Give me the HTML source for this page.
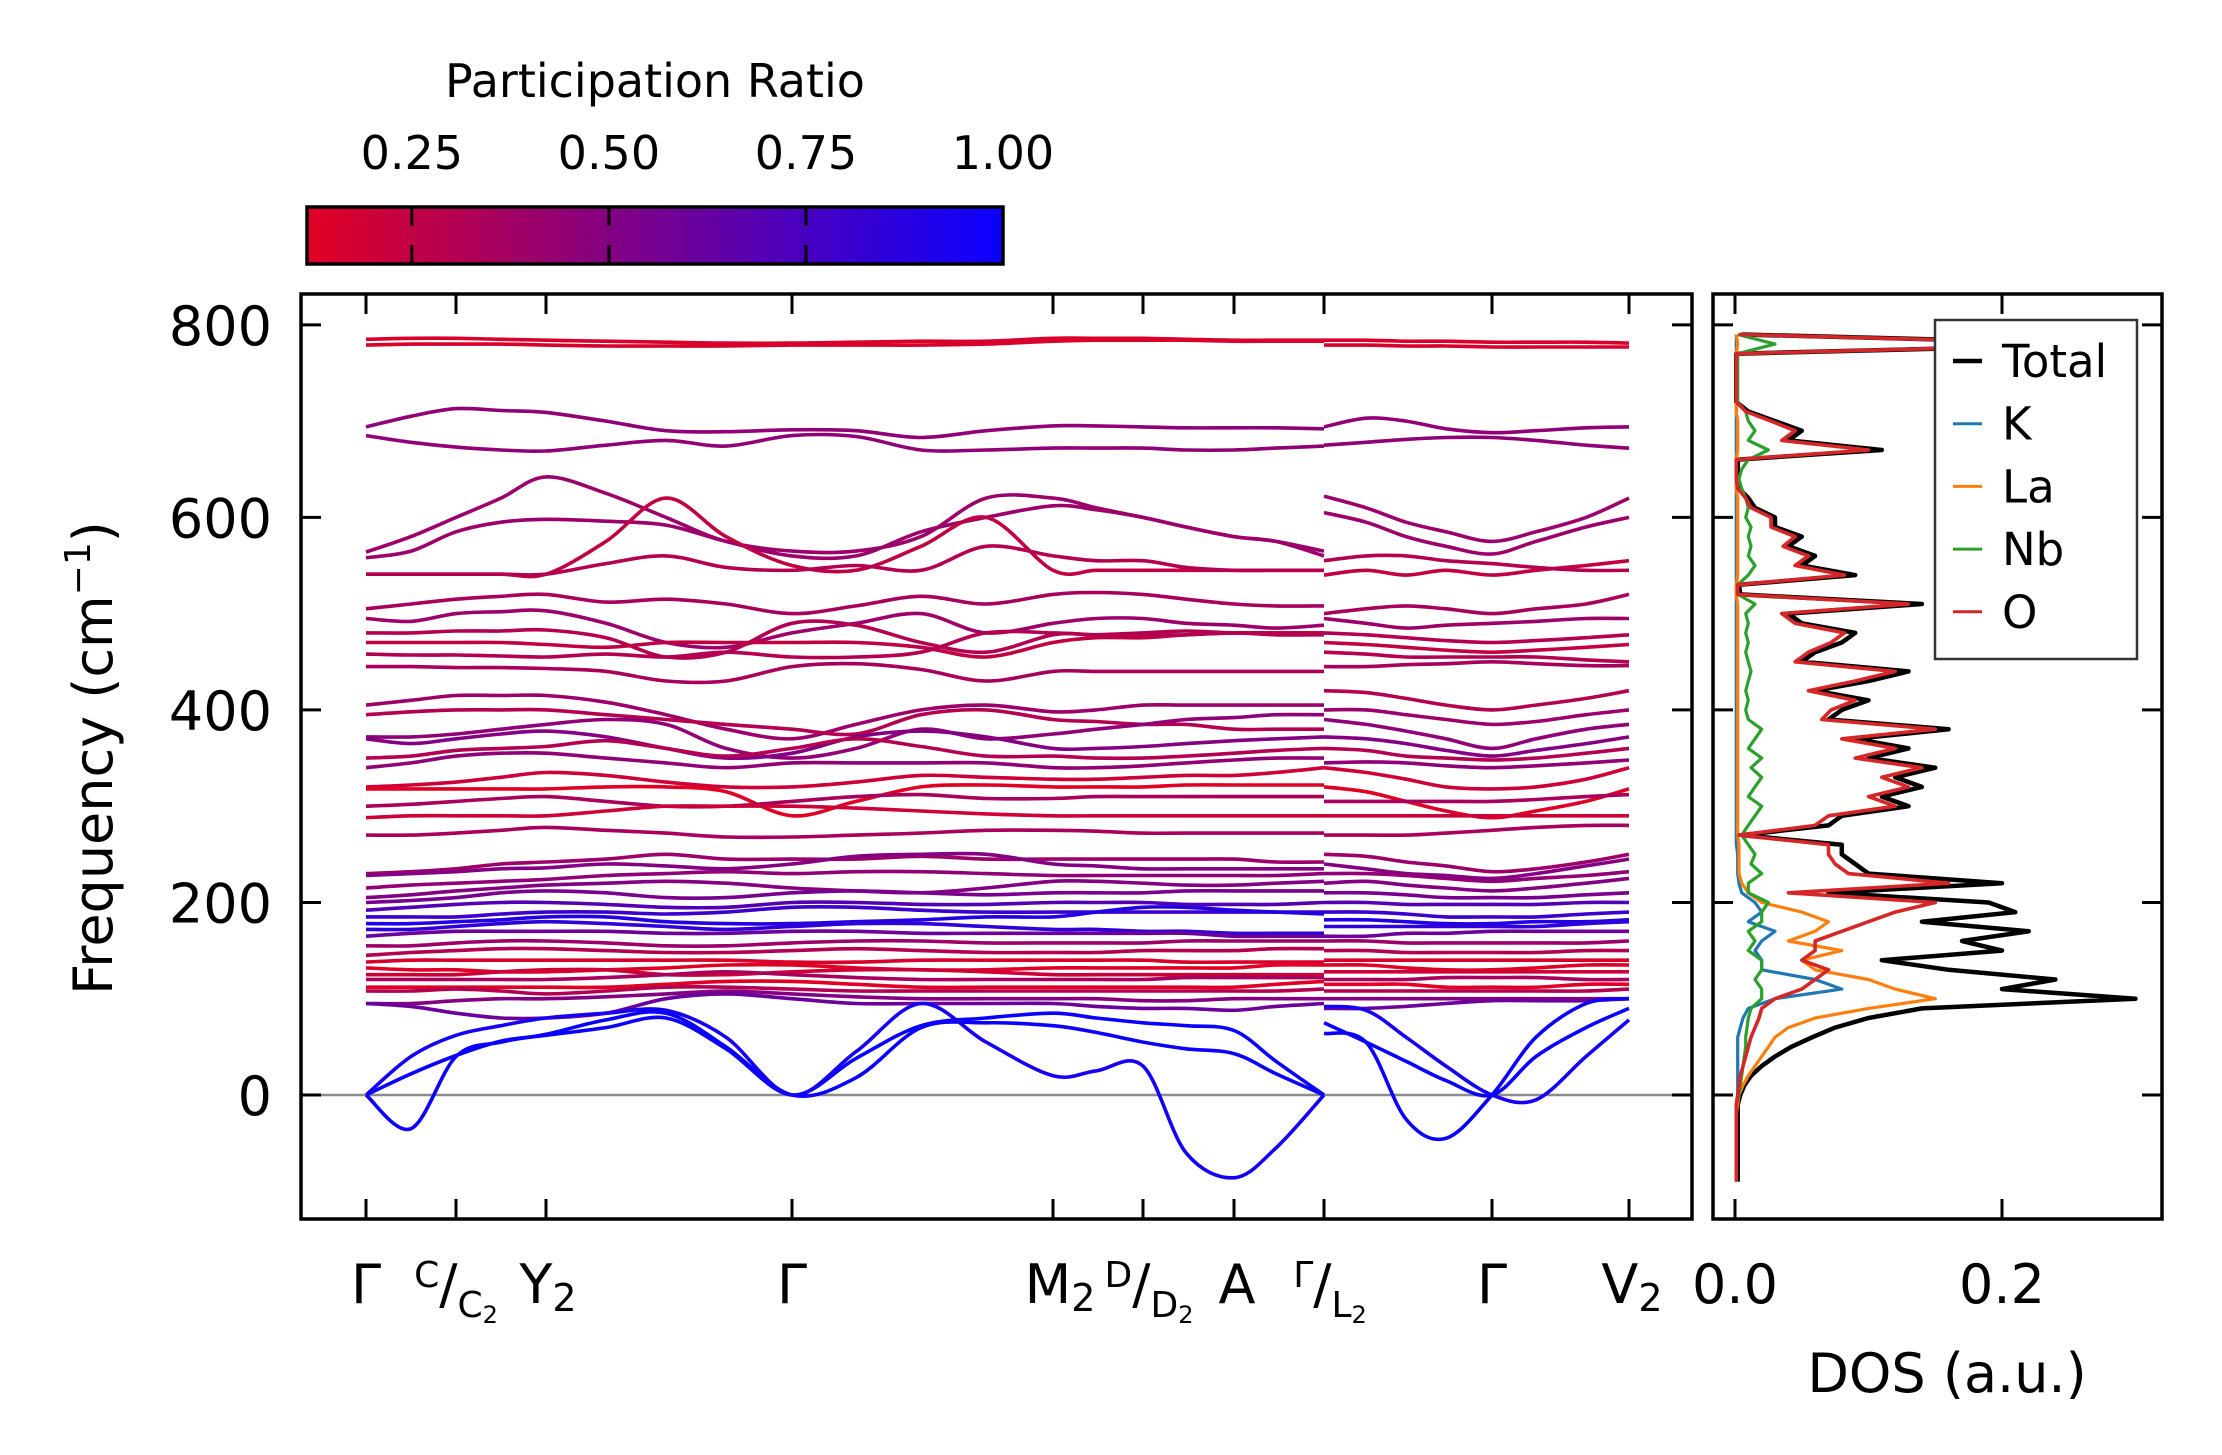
<!DOCTYPE html>
<html><head><meta charset="utf-8"><title>Phonon bands and DOS</title>
<style>
html,body{margin:0;padding:0;background:#fff;}
svg{display:block;font-family:"DejaVu Sans","Liberation Sans",sans-serif;}
</style></head>
<body>
<svg id="fig" width="2222" height="1455" viewBox="0 0 2222 1455" xmlns="http://www.w3.org/2000/svg">
<defs>
<linearGradient id="cmapGrad" x1="0" x2="1" y1="0" y2="0">
<stop offset="0" stop-color="rgb(225,0,35)"/>
<stop offset="1" stop-color="rgb(10,0,255)"/>
</linearGradient>
<clipPath id="mainClip"><rect x="301" y="294" width="1391" height="925"/></clipPath>
<clipPath id="dosClip"><rect x="1713" y="294" width="449" height="925"/></clipPath>
</defs>
<g id="colorbar">
<text x="655" y="97" font-size="46" text-anchor="middle">Participation Ratio</text>
<rect x="307" y="207" width="696" height="57" fill="url(#cmapGrad)" stroke="#000" stroke-width="3.5"/>
</g>
<g id="main"></g>
<g id="dos"></g>
<text transform="translate(112,758) rotate(-90)" font-size="54" text-anchor="middle">Frequency (cm<tspan font-size="36" dy="-22">−1</tspan><tspan dy="22">)</tspan></text>
<text x="1947" y="1392" font-size="54" text-anchor="middle">DOS (a.u.)</text>
</svg>
<script>
const kTicks = [0, 0.9, 1.8, 4.26, 6.87, 7.77, 8.68, 9.58, 11.26, 12.63];
const kSeg1 = [0,0.45,0.9,1.35,1.8,2.4,3.0,3.6,4.26,4.9,5.55,6.2,6.87,7.3,7.77,8.2,8.68,9.1,9.58];
const kSeg2 = [9.58,10.0,10.4,10.8,11.26,11.7,12.2,12.63];
const freqTicks = [0, 200, 400, 600, 800];
const bandFreqSeg1 = [
[785,786,786,785,784,783,782,781,781,782,783,783,786,786,786,785,784,784,784],
[779,780,780,780,779,778,778,778,779,779,779,780,783,784,784,784,783,783,783],
[694,705,713,711,709,700,690,689,691,690,683,690,695,695,694,693,693,693,692],
[685,678,673,670,669,675,680,674,685,684,670,670,672,672,672,670,670,672,674],
[564,580,600,620,642,625,600,575,565,565,580,620,620,610,600,590,580,575,565],
[558,565,585,595,598,596,592,575,560,560,585,600,612,608,600,590,580,575,560],
[541,541,541,541,541,575,620,580,550,545,570,600,545,545,545,545,545,545,545],
[541,541,541,541,541,552,560,548,545,550,545,570,560,555,555,548,545,545,545],
[505,510,515,518,520,512,515,510,500,508,518,510,520,522,520,515,510,508,508],
[495,492,500,502,503,490,470,465,480,490,500,480,490,495,495,490,488,485,488],
[480,480,482,482,483,475,455,460,490,488,470,460,478,478,480,482,480,480,480],
[470,470,470,470,468,465,470,470,470,470,465,455,470,475,475,478,480,480,480],
[458,457,457,456,455,458,455,460,455,455,460,480,480,478,478,478,480,478,478],
[445,445,444,444,443,440,430,430,445,448,442,430,440,440,440,440,440,440,440],
[405,410,415,415,415,408,395,380,370,385,400,405,398,400,405,405,405,405,405],
[395,398,400,400,400,395,390,385,380,375,395,400,390,388,385,385,380,380,380],
[372,372,375,380,385,390,385,360,350,360,380,370,375,380,385,390,392,395,395],
[370,365,370,375,378,372,360,350,355,372,378,372,360,360,362,365,368,370,372],
[350,352,358,360,362,368,360,352,360,370,362,352,352,350,350,352,355,358,360],
[340,345,352,355,355,350,345,340,345,345,345,345,340,340,342,345,348,350,350],
[320,322,325,330,335,332,325,320,320,325,332,330,328,328,330,332,332,335,340],
[318,318,318,318,318,320,320,315,290,305,320,322,320,320,320,322,322,322,322],
[300,302,305,308,310,305,300,300,305,310,312,308,308,310,310,310,310,310,310],
[288,290,290,290,290,295,300,300,300,298,295,292,290,290,290,290,290,290,290],
[270,270,272,275,278,275,272,268,268,270,272,275,275,274,272,272,272,272,272],
[230,232,235,240,242,245,250,245,245,245,248,245,245,245,245,245,245,242,242],
[228,230,232,235,236,240,238,235,240,248,250,250,240,238,235,235,235,235,235],
[215,218,220,222,224,228,230,232,230,232,232,230,228,228,228,228,228,228,230],
[205,208,212,215,218,220,222,220,215,212,210,215,222,222,220,218,218,220,222],
[200,202,205,210,212,210,205,205,210,212,210,208,210,210,210,212,212,212,212],
[192,195,198,200,200,198,195,195,200,200,198,198,200,200,200,198,198,198,200],
[185,185,185,188,190,190,188,190,195,195,192,190,190,190,190,190,190,190,190],
[178,178,180,182,185,185,180,178,178,180,182,185,185,190,195,195,192,190,188],
[172,172,175,178,180,178,175,172,175,178,178,175,172,172,170,170,168,168,168],
[165,168,170,170,170,170,168,168,170,170,168,168,168,168,168,168,165,165,165],
[155,155,158,160,160,158,155,155,158,160,160,158,158,158,158,160,160,160,160],
[145,148,150,152,152,150,148,148,150,152,150,148,148,148,150,150,150,152,152],
[138,140,140,140,140,140,140,140,138,138,140,140,140,140,140,138,138,138,138],
[132,130,130,128,128,130,132,135,135,132,130,130,132,132,132,132,132,135,135],
[125,125,125,128,130,130,125,125,128,130,130,128,125,125,125,125,125,125,125],
[120,120,120,120,120,122,125,128,125,122,120,120,120,120,120,122,122,122,122],
[112,112,112,112,112,112,115,118,118,115,112,112,112,112,112,112,112,115,118],
[108,108,110,108,105,108,112,112,110,108,108,108,108,108,108,108,108,108,110],
[95,95,98,100,100,102,105,108,105,102,100,100,100,100,98,98,100,100,100],
[95,92,85,80,80,85,100,105,100,95,95,95,95,92,90,90,88,92,95],
[0,-35,40,55,63,78,85,50,0,18,70,75,72,65,55,48,43,22,0],
[0,22,41,56,62,70,80,48,0,38,72,80,85,80,75,72,67,35,0],
[0,40,62,72,80,85,88,60,0,45,95,55,20,25,30,-60,-86,-55,0]
];
const bandFreqSeg2 = [
[784,784,783,783,782,782,782,781],
[779,779,778,778,777,777,777,777],
[694,703,700,692,688,690,693,694],
[675,678,681,683,683,680,675,672],
[622,610,595,585,575,585,600,620],
[605,595,580,570,562,575,590,600],
[540,545,540,545,540,545,550,555],
[555,560,560,555,552,548,545,545],
[500,505,508,505,500,505,510,520],
[495,490,485,488,490,492,495,495],
[480,478,475,472,470,472,475,478],
[470,468,465,462,460,462,465,468],
[460,458,455,455,455,455,452,450],
[445,445,447,448,450,448,446,446],
[400,400,395,390,385,388,395,400],
[420,418,412,405,400,405,412,420],
[390,385,378,370,360,370,380,385],
[372,370,365,358,352,358,365,372],
[360,358,352,350,348,350,355,360],
[345,346,345,342,340,342,345,348],
[340,335,328,320,318,320,328,340],
[320,315,305,295,288,295,305,318],
[305,305,305,305,305,307,310,312],
[290,290,290,290,290,290,290,290],
[270,270,270,272,275,278,280,280],
[250,248,242,238,232,235,242,250],
[240,235,230,228,225,230,238,245],
[230,230,228,225,222,225,228,232],
[220,222,218,215,212,215,220,225],
[210,210,208,205,205,205,208,210],
[200,200,198,198,198,198,200,200],
[190,190,188,185,185,185,188,190],
[182,182,180,178,178,180,180,182],
[175,175,175,175,175,175,178,180],
[165,165,168,168,170,170,170,170],
[160,160,158,158,158,158,158,160],
[150,150,148,148,148,148,150,150],
[140,140,140,140,140,140,140,140],
[135,135,132,130,130,132,135,135],
[128,128,128,128,128,128,128,128],
[120,120,120,122,122,122,120,120],
[115,115,115,112,112,112,115,115],
[108,108,108,108,108,108,108,110],
[100,100,100,100,100,100,100,100],
[90,90,92,95,98,98,98,100],
[64,55,-25,-45,0,60,95,100],
[75,55,35,15,0,40,70,90],
[92,88,60,30,0,-5,40,78]
];
const bandPR = [0.15,0.15,0.45,0.45,0.4,0.4,0.25,0.3,0.35,0.4,0.3,0.25,0.3,0.35,
0.4,0.3,0.45,0.5,0.3,0.45,0.2,0.1,0.35,0.2,0.35,0.4,0.5,0.45,0.5,0.55,0.7,0.8,0.9,0.85,
0.6,0.4,0.3,0.15,0.12,0.2,0.35,0.1,0.3,0.5,0.6,1.0,1.0,0.95];
const cbTicks = [0.25, 0.5, 0.75, 1.0];
const cbTickLabels = ["0.25","0.50","0.75","1.00"];
const prMin = 0.117, prMax = 1.0;
const dosFreq = [-90,-80,-70,-60,-50,-40,-30,-20,-10,0,10,20,30,40,50,60,70,80,90,100,110,120,130,140,150,160,170,180,190,200,210,220,230,240,250,260,270,280,290,300,310,320,330,340,350,360,370,380,390,400,410,420,430,440,450,460,470,480,490,500,510,520,530,540,550,560,570,580,590,600,610,620,630,640,650,660,670,680,690,700,710,720,730,740,750,760,770,780,790];
const dosTotal = [0.002,0.002,0.002,0.002,0.002,0.002,0.002,0.002,0.002,0.004,0.007,0.012,0.02,0.03,0.042,0.058,0.075,0.1,0.14,0.3,0.2,0.24,0.16,0.11,0.2,0.17,0.22,0.14,0.21,0.19,0.07,0.2,0.1,0.09,0.08,0.08,0.005,0.07,0.08,0.13,0.11,0.14,0.12,0.15,0.1,0.13,0.09,0.16,0.07,0.08,0.1,0.06,0.1,0.13,0.05,0.06,0.08,0.09,0.05,0.04,0.14,0.004,0.003,0.09,0.05,0.06,0.04,0.05,0.03,0.03,0.015,0.01,0.003,0.002,0.002,0.002,0.11,0.04,0.05,0.03,0.01,0.001,0.001,0.001,0.001,0.001,0.001,0.29,0.005];
const dosO = [0.001,0.001,0.001,0.001,0.001,0.001,0.001,0.001,0.001,0.002,0.003,0.004,0.006,0.008,0.01,0.012,0.015,0.018,0.02,0.03,0.05,0.06,0.07,0.05,0.06,0.06,0.08,0.1,0.12,0.15,0.04,0.16,0.085,0.075,0.07,0.07,0.003,0.06,0.07,0.12,0.1,0.13,0.11,0.14,0.09,0.12,0.08,0.15,0.065,0.072,0.09,0.055,0.09,0.12,0.045,0.055,0.072,0.082,0.045,0.035,0.13,0.002,0.002,0.082,0.045,0.055,0.036,0.045,0.027,0.027,0.012,0.008,0.002,0.001,0.001,0.001,0.1,0.035,0.045,0.027,0.008,0.001,0.001,0.001,0.001,0.001,0.001,0.28,0.003];
const dosK = [0.001,0.001,0.001,0.001,0.001,0.001,0.001,0.001,0.001,0.002,0.002,0.002,0.002,0.002,0.002,0.002,0.004,0.006,0.01,0.03,0.08,0.06,0.02,0.02,0.015,0.02,0.03,0.01,0.02,0.015,0.005,0.003,0.002,0.002,0.002,0.001,0.001,0.001,0.001,0.001,0.001,0.001,0.001,0.001,0.001,0.001,0.001,0.001,0.001,0.001,0.001,0.001,0.001,0.001,0.001,0.001,0.001,0.001,0.001,0.001,0.001,0.001,0.001,0.001,0.001,0.001,0.001,0.001,0.001,0.001,0.001,0.001,0.001,0.001,0.001,0.001,0.001,0.001,0.001,0.001,0.001,0.001,0.001,0.001,0.001,0.001,0.001,0.001,0.001];
const dosLa = [0.001,0.001,0.001,0.001,0.001,0.001,0.001,0.001,0.002,0.003,0.006,0.01,0.015,0.02,0.025,0.03,0.04,0.06,0.1,0.15,0.12,0.1,0.06,0.05,0.08,0.04,0.06,0.07,0.05,0.02,0.01,0.005,0.003,0.003,0.003,0.003,0.002,0.002,0.002,0.002,0.002,0.002,0.002,0.002,0.002,0.002,0.002,0.002,0.002,0.002,0.002,0.002,0.002,0.002,0.002,0.002,0.002,0.002,0.002,0.002,0.002,0.001,0.001,0.002,0.002,0.002,0.002,0.002,0.002,0.002,0.002,0.002,0.001,0.001,0.001,0.001,0.002,0.002,0.002,0.002,0.001,0.001,0.001,0.001,0.001,0.001,0.001,0.002,0.001];
const dosNb = [0.001,0.001,0.001,0.001,0.001,0.001,0.001,0.001,0.001,0.003,0.004,0.005,0.006,0.007,0.008,0.008,0.009,0.01,0.012,0.02,0.02,0.015,0.02,0.02,0.01,0.015,0.01,0.02,0.02,0.025,0.01,0.01,0.02,0.012,0.015,0.01,0.005,0.01,0.015,0.02,0.01,0.015,0.02,0.012,0.02,0.01,0.015,0.02,0.01,0.008,0.01,0.008,0.01,0.012,0.01,0.008,0.01,0.008,0.01,0.008,0.015,0.002,0.002,0.01,0.015,0.01,0.012,0.01,0.012,0.008,0.01,0.008,0.005,0.003,0.005,0.01,0.025,0.01,0.015,0.01,0.008,0.002,0.002,0.002,0.002,0.002,0.002,0.03,0.002];
const dosTicks = [0.0, 0.2];
const dosTickLabels = ["0.0","0.2"];
const legendNames = ["Total","K","La","Nb","O"];
const legendColors = ["#000000","#1f77b4","#ff7f0e","#2ca02c","#d62728"];

const NS = "http://www.w3.org/2000/svg";
const Y0 = 1095, YPER = 0.9627;
function yScale(f){ return Y0 - f*YPER; }
function xScale(d){ return 366 + d*100.0; }
function dosX(v){ return 1735 + v*1335; }
function cbX(p){ return 307 + (p-prMin)/(prMax-prMin)*696; }
function cmap(p){
  let t=(p-prMin)/(prMax-prMin); t=Math.max(0,Math.min(1,t));
  const r=Math.round(225*(1-t)+10*t), b=Math.round(35*(1-t)+255*t);
  return "rgb("+r+",0,"+b+")";
}
function mk(tag, attrs, parent){
  const el=document.createElementNS(NS,tag);
  for(const k in attrs) el.setAttribute(k,attrs[k]);
  parent.appendChild(el); return el;
}
function smoothPath(xs, ys){
  let d="M"+xs[0].toFixed(1)+","+ys[0].toFixed(1);
  for(let i=0;i<xs.length-1;i++){
    const x0=xs[Math.max(0,i-1)], y0=ys[Math.max(0,i-1)];
    const x1=xs[i], y1=ys[i], x2=xs[i+1], y2=ys[i+1];
    const x3=xs[Math.min(xs.length-1,i+2)], y3=ys[Math.min(xs.length-1,i+2)];
    const c1x=x1+(x2-x0)/6, c1y=y1+(y2-y0)/6, c2x=x2-(x3-x1)/6, c2y=y2-(y3-y1)/6;
    d+=" C"+c1x.toFixed(1)+","+c1y.toFixed(1)+" "+c2x.toFixed(1)+","+c2y.toFixed(1)+" "+x2.toFixed(1)+","+y2.toFixed(1);
  }
  return d;
}
const cb=document.getElementById("colorbar");
const main=document.getElementById("main");
const dos=document.getElementById("dos");

cbTicks.forEach((p,i)=>{
  const x=cbX(p);
  const t1=mk("line",{x1:x,y1:207,x2:x,y2:226,stroke:"#000","stroke-width":3},cb);
  
  
  const t2=mk("line",{x1:x,y1:245,x2:x,y2:264,stroke:"#000","stroke-width":3},cb);
  
  
  const lb=mk("text",{x:x,y:169,"font-size":46,"text-anchor":"middle"},cb);
  lb.textContent=cbTickLabels[i];
  
  
});

const bandsG=mk("g",{"clip-path":"url(#mainClip)"},main);


const zl=mk("line",{x1:301,y1:yScale(0),x2:1692,y2:yScale(0),stroke:"#8c8c8c","stroke-width":2.5},bandsG);


const nb=Math.min(bandFreqSeg1.length,bandFreqSeg2.length,bandPR.length);
for(let b=0;b<nb;b++){
  const col=cmap(bandPR[b]);
  const p1=mk("path",{d:smoothPath(kSeg1.map(xScale),bandFreqSeg1[b].map(yScale)),fill:"none",stroke:col,"stroke-width":3.6},bandsG);
  
  
  const p2=mk("path",{d:smoothPath(kSeg2.map(xScale),bandFreqSeg2[b].map(yScale)),fill:"none",stroke:col,"stroke-width":3.6},bandsG);
  
  
}
const mf=mk("rect",{x:301,y:294,width:1391,height:925,fill:"none",stroke:"#000","stroke-width":3.5},main);


kTicks.forEach(k=>{
  const x=xScale(k);
  const a=mk("line",{x1:x,y1:1219,x2:x,y2:1199,stroke:"#000","stroke-width":3},main);
  
  
  const b2=mk("line",{x1:x,y1:294,x2:x,y2:314,stroke:"#000","stroke-width":3},main);
  
  
});
freqTicks.forEach(f=>{
  const y=yScale(f);
  [[301,321],[1692,1672],[1713,1733],[2162,2142]].forEach(pr=>{
    const t=mk("line",{x1:pr[0],y1:y,x2:pr[1],y2:y,stroke:"#000","stroke-width":3},main);
    
    
  });
  const lb=mk("text",{x:272,y:y+20,"font-size":54,"text-anchor":"end"},main);
  lb.textContent=String(f);
  
  
});
const xl=mk("g",{"font-size":54},main);


xl.innerHTML=
 '<text x="366" y="1303" text-anchor="middle">Γ</text>'+
 '<text x="456" y="1303" text-anchor="middle"><tspan font-size="36" dy="-16">C</tspan><tspan dy="16">/</tspan><tspan font-size="36" dy="14">C</tspan><tspan font-size="24" dy="6">2</tspan></text>'+
 '<text x="548" y="1303" text-anchor="middle">Y<tspan font-size="38" dy="8">2</tspan></text>'+
 '<text x="792" y="1303" text-anchor="middle">Γ</text>'+
 '<text x="1060" y="1303" text-anchor="middle">M<tspan font-size="38" dy="8">2</tspan></text>'+
 '<text x="1149" y="1303" text-anchor="middle"><tspan font-size="36" dy="-16">D</tspan><tspan dy="16">/</tspan><tspan font-size="36" dy="14">D</tspan><tspan font-size="24" dy="6">2</tspan></text>'+
 '<text x="1237" y="1303" text-anchor="middle">A</text>'+
 '<text x="1330" y="1303" text-anchor="middle"><tspan font-size="36" dy="-16">Γ</tspan><tspan dy="16">/</tspan><tspan font-size="36" dy="14">L</tspan><tspan font-size="24" dy="6">2</tspan></text>'+
 '<text x="1492" y="1303" text-anchor="middle">Γ</text>'+
 '<text x="1632" y="1303" text-anchor="middle">V<tspan font-size="38" dy="8">2</tspan></text>';

const dosG=mk("g",{"clip-path":"url(#dosClip)"},dos);


const dosSeries=[dosTotal,dosK,dosLa,dosNb,dosO];
const dosWidths=[4.5,3.2,3.2,3.2,3.6];
const dosNames=['dos-total-line','dos-k-line','dos-la-line','dos-nb-line','dos-o-line'];
dosSeries.forEach((s,i)=>{
  const n=Math.min(s.length,dosFreq.length);
  const pts=[];
  for(let j=0;j<n;j++) pts.push(dosX(s[j]).toFixed(1)+","+yScale(dosFreq[j]).toFixed(1));
  const pl=mk("polyline",{points:pts.join(" "),fill:"none",stroke:legendColors[i],"stroke-width":dosWidths[i],"stroke-linejoin":"round"},dosG);
  
  
});
const df=mk("rect",{x:1713,y:294,width:449,height:925,fill:"none",stroke:"#000","stroke-width":3.5},dos);


dosTicks.forEach((v,i)=>{
  const x=dosX(v);
  const a=mk("line",{x1:x,y1:1219,x2:x,y2:1199,stroke:"#000","stroke-width":3},dos);
  
  
  const b2=mk("line",{x1:x,y1:294,x2:x,y2:314,stroke:"#000","stroke-width":3},dos);
  
  
  const lb=mk("text",{x:x,y:1303,"font-size":54,"text-anchor":"middle"},dos);
  lb.textContent=dosTickLabels[i];
  
  
});
const lg=mk("g",{},dos);


const lr=mk("rect",{x:1935,y:320,width:202,height:339,fill:"#fff",stroke:"#333","stroke-width":2.5},lg);


legendNames.forEach((nm,i)=>{
  const y=361+i*62.7;
  const ln=mk("line",{x1:1953,y1:y,x2:1982,y2:y,stroke:legendColors[i],"stroke-width":i===0?4.5:3},lg);
  
  
  const tx=mk("text",{x:2002,y:y+16,"font-size":45},lg);
  tx.textContent=nm;
  
  
});
</script>
</body></html>
